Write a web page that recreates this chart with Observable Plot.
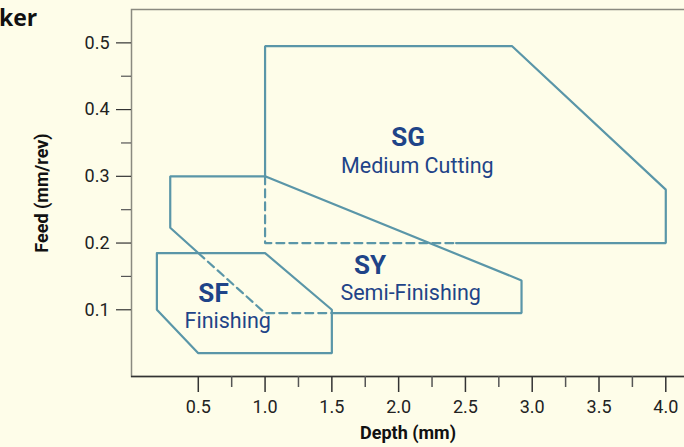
<!DOCTYPE html>
<html>
<head>
<meta charset="utf-8">
<script src="https://cdn.jsdelivr.net/npm/d3@7"></script>
<script src="https://cdn.jsdelivr.net/npm/@observablehq/plot@0.6"></script>
<style>
  html, body { margin: 0; padding: 0; background: #fefde9; }
  #wrap { position: relative; width: 684px; height: 447px; overflow: hidden; }
  #title { position: absolute; left: -1px; top: 2px; font: bold 23px "Open Sans", sans-serif; color: #111; line-height: 30px; }
</style>
</head>
<body>
<div id="wrap"><div id="title">ker</div><div id="chart"></div></div>
<script>
// Region outlines (Depth mm, Feed mm/rev)
const sgSolidX = [2.43, 4.0, 4.0, 2.85, 1.0, 1.0];
const sgSolidY = [0.2, 0.2, 0.28, 0.495, 0.495, 0.3];
const sgDashX = [1.0, 1.0, 2.43];
const sgDashY = [0.3, 0.2, 0.2];

const sySolidX = [0.5, 0.29, 0.29, 1.0, 2.92, 2.92, 1.5];
const sySolidY = [0.185, 0.223, 0.3, 0.3, 0.144, 0.095, 0.095];
const syDashX = [0.5, 1.0, 1.5];
const syDashY = [0.185, 0.095, 0.095];

const sfX = [0.19, 1.0, 1.5, 1.5, 0.5, 0.19, 0.19];
const sfY = [0.185, 0.185, 0.1, 0.035, 0.035, 0.1, 0.185];

// Labels
const titleText = ["SG", "SY", "SF"];
const titleX = [2.07, 1.785, 0.614];
const titleY = [0.358, 0.166, 0.1245];
const subText = ["Medium Cutting", "Semi-Finishing", "Finishing"];
const subX = [2.14, 2.09, 0.72];
const subY = [0.315, 0.1245, 0.0825];

// Ticks
const xTicks = [0.5, 1.0, 1.5, 2.0, 2.5, 3.0, 3.5, 4.0];
const xMinor = [0.75, 1.25, 1.75, 2.25, 2.75, 3.25, 3.75];
const yTicks = [0.1, 0.2, 0.3, 0.4, 0.5];
const yMinor = [0.15, 0.25, 0.35, 0.45];

const toPts = (xs, ys, seg) => xs.map((x, i) => ({x, y: ys[i], seg}));
const solid = [
  ...toPts(sgSolidX, sgSolidY, "sg"),
  ...toPts(sySolidX, sySolidY, "sy"),
  ...toPts(sfX, sfY, "sf")
];
const dashed = [
  ...toPts(sgDashX, sgDashY, "sg"),
  ...toPts(syDashX, syDashY, "sy")
];
const titles = titleText.map((t, i) => ({t, x: titleX[i], y: titleY[i]}));
const subs = subText.map((t, i) => ({t, x: subX[i], y: subY[i]}));

const stroke = "#5a96a8";
const ink = "#1f4488";

const chart = Plot.plot({
  width: 684,
  height: 447,
  marginLeft: 131,
  marginRight: -8,
  marginTop: 9,
  marginBottom: 71,
  style: { background: "transparent", fontFamily: "Roboto, sans-serif", fontSize: "18px", color: "#222" },
  x: { domain: [0, 4.2] },
  y: { domain: [0, 0.55] },
  marks: [
    Plot.frame({ stroke: "#8a8a80", strokeWidth: 1.5 }),
    Plot.ruleY([0], { stroke: "#333", strokeWidth: 1.5 }),
    Plot.axisX(xTicks, { tickSize: 16, tickPadding: 8, tickFormat: d3.format(".1f"), stroke: "#333", strokeWidth: 1.5, label: null, fontSize: 18 }),
    Plot.axisX(xMinor, { tickSize: 11, text: null, stroke: "#555", strokeWidth: 1.5, label: null }),
    Plot.axisY(yTicks, { tickSize: 15, tickPadding: 7, tickFormat: d3.format(".1f"), stroke: "#333", strokeWidth: 1.2, label: null, fontSize: 18 }),
    Plot.axisY(yMinor, { tickSize: 10, text: null, stroke: "#555", strokeWidth: 1.2, label: null }),
    Plot.line(solid, { x: "x", y: "y", z: "seg", stroke, strokeWidth: 2.2, strokeLinejoin: "miter" }),
    Plot.line(dashed, { x: "x", y: "y", z: "seg", stroke, strokeWidth: 2.2, strokeDasharray: "8,5" }),
    Plot.text(titles, { x: "x", y: "y", text: "t", fill: ink, fontSize: 26, fontWeight: "bold" }),
    Plot.text(subs, { x: "x", y: "y", text: "t", fill: ink, fontSize: 21.5 }),
    Plot.text(["Feed (mm/rev)"], { frameAnchor: "left", textAnchor: "middle", dx: -89, rotate: -90, text: d => d, fontSize: 18, fontWeight: "bold", fill: "#111" }),
    Plot.text(["Depth (mm)"], { frameAnchor: "bottom", dx: -4, dy: 62, text: d => d, fontSize: 18, fontWeight: "bold", fill: "#111" })
  ]
});
document.getElementById("chart").appendChild(chart);
</script>
</body>
</html>
